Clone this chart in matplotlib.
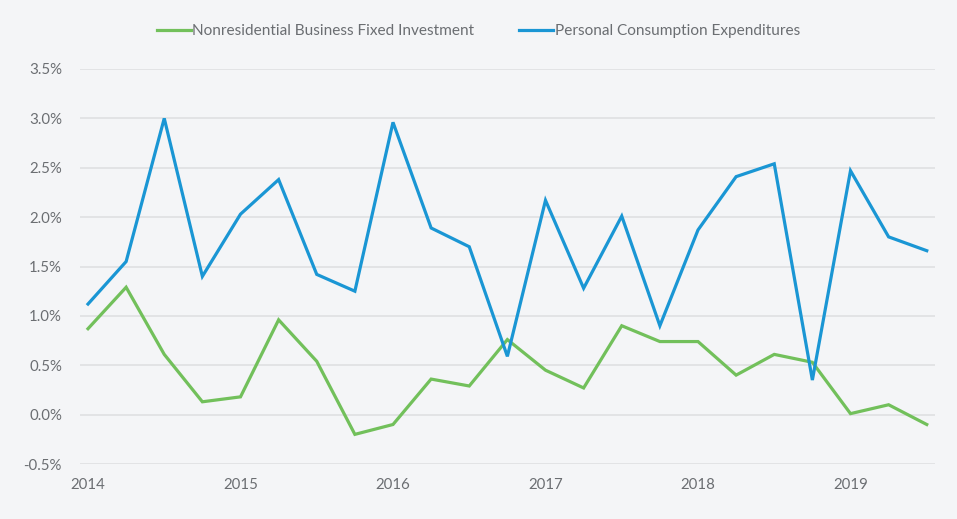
import numpy as np
import matplotlib.pyplot as plt

# quarterly growth, 2014Q1 - 2019Q3
quarters = 2014 + np.arange(23) * 0.25
pce = [1.12, 1.55, 3.0, 1.4, 2.03, 2.38, 1.42, 1.25, 2.96, 1.89, 1.70, 0.59,
       2.17, 1.28, 2.01, 0.90, 1.87, 2.41, 2.54, 0.35, 2.47, 1.80, 1.66]
nbfi = [0.87, 1.29, 0.61, 0.13, 0.18, 0.96, 0.54, -0.20, -0.10, 0.36, 0.29, 0.76,
        0.45, 0.27, 0.90, 0.74, 0.74, 0.40, 0.61, 0.53, 0.01, 0.10, -0.10]
years = [2014, 2015, 2016, 2017, 2018, 2019]
yticks = [-0.5, 0.0, 0.5, 1.0, 1.5, 2.0, 2.5, 3.0, 3.5]

bg = '#f4f5f7'
text_col = '#6b6e72'
plt.rcParams['font.family'] = ['Lato', 'DejaVu Sans']

fig = plt.figure(figsize=(9.57, 5.19), dpi=100, facecolor=bg)
ax = fig.add_axes([80/957, 1 - 464/519, (935-80)/957, (464-69)/519])
ax.set_facecolor(bg)

ax.plot(quarters, nbfi, color='#72c05b', lw=2.3, label='Nonresidential Business Fixed Investment',
        solid_joinstyle='miter', zorder=3)
ax.plot(quarters, pce, color='#1a96d4', lw=2.3, label='Personal Consumption Expenditures',
        solid_joinstyle='miter', zorder=3)

ax.set_ylim(-0.5, 3.5)
ax.set_xlim(2014 - 8/152.5, 2014 + 847/152.5)
ax.set_yticks(yticks)
ax.set_yticklabels([f'{v:.1f}%' for v in yticks])
ax.set_xticks(years)
ax.set_xticklabels([str(y) for y in years])
ax.grid(axis='y', color='#dfe0e2', lw=1.2)
ax.set_axisbelow(True)
for s in ax.spines.values():
    s.set_visible(False)
ax.tick_params(axis='both', length=0, colors=text_col, labelsize=10.8)
ax.tick_params(axis='y', pad=13)
ax.tick_params(axis='x', pad=10)

fig.legend(loc='center', bbox_to_anchor=(0.5, 1 - 31/519), ncol=2, frameon=False,
           handlelength=2.2, handletextpad=0.1, columnspacing=2.9, fontsize=11.1,
           labelcolor=text_col)

plt.savefig('out.png', dpi=100, facecolor=bg)
